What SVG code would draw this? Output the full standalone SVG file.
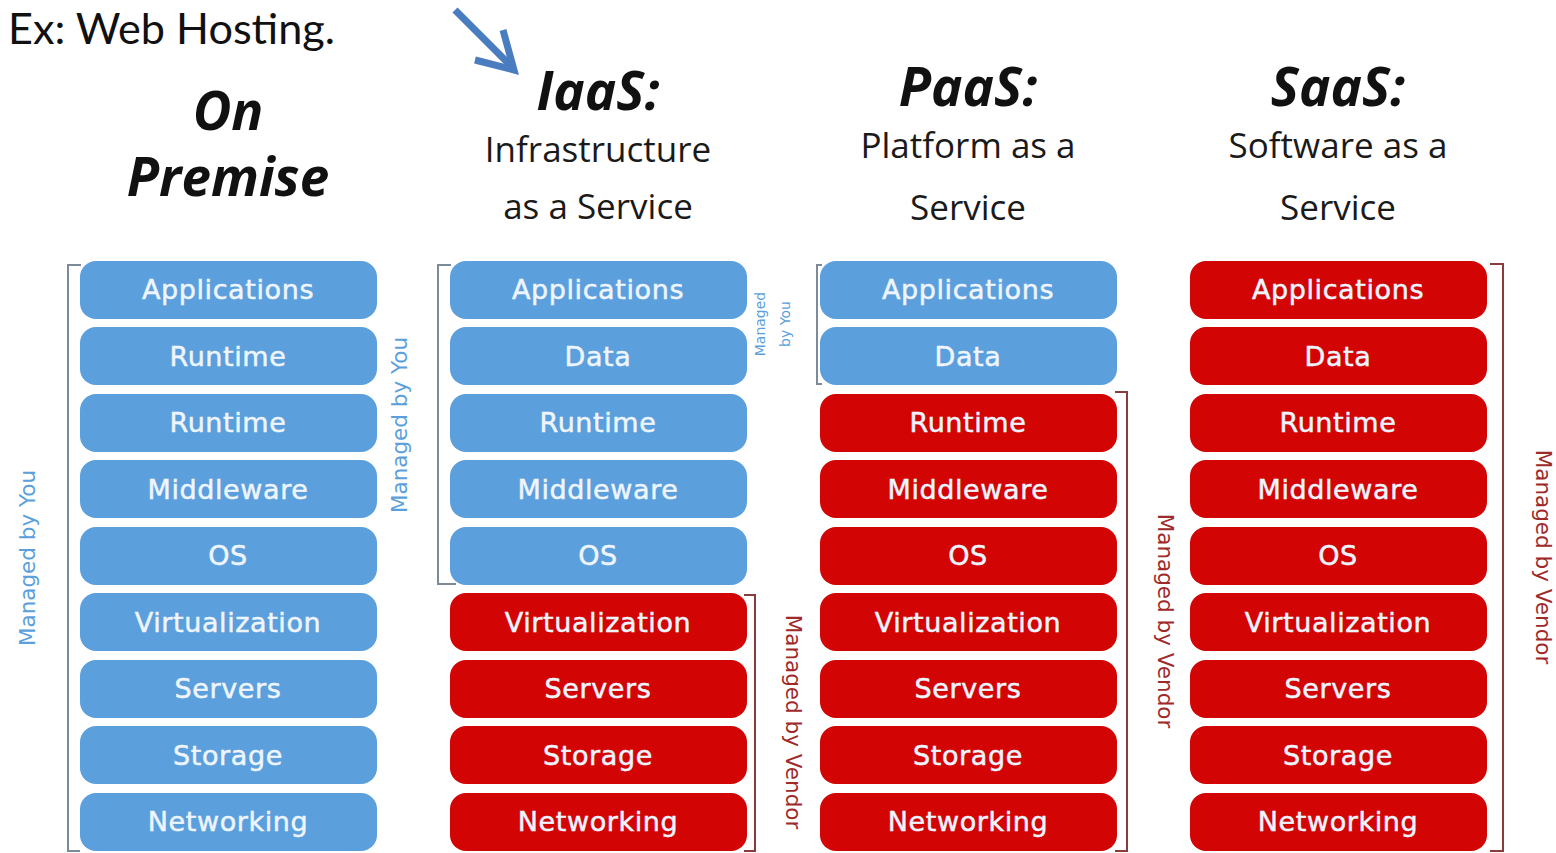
<svg xmlns="http://www.w3.org/2000/svg" width="1556" height="853" viewBox="0 0 1556 853">
  <style>
    .box-you { fill: #5b9fdc; }
    .box-vendor { fill: #d20404; }
    .lbl { font-family: "DejaVu Sans", Verdana, sans-serif; font-size: 27px; letter-spacing: 0.6px; fill: #eef5ff; stroke: #eef5ff; stroke-width: 0.5; text-anchor: middle; }
    .head { font-family: "Open Sans", "Liberation Sans", sans-serif; font-weight: bold; font-style: italic; font-size: 53px; fill: #111; text-anchor: middle; }
    .sub { font-family: "Open Sans", "Liberation Sans", sans-serif; font-size: 35px; fill: #1a1a1a; text-anchor: middle; }
    .title { font-family: Lato, "Liberation Sans", sans-serif; font-size: 42px; fill: #111; }
    .note-you { font-family: "DejaVu Sans", Verdana, sans-serif; font-size: 21.5px; fill: #5b9fdc; text-anchor: middle; }
    .note-you-sm { font-family: "DejaVu Sans", Verdana, sans-serif; font-size: 14px; fill: #5b9fdc; text-anchor: middle; }
    .note-vendor { font-family: "DejaVu Sans", Verdana, sans-serif; font-size: 21.5px; fill: #9e2a2a; text-anchor: middle; }
    .br-you { fill: none; stroke: #7d8a98; stroke-width: 2; }
    .br-vendor { fill: none; stroke: #8a3b3b; stroke-width: 2; }
    .arrow { fill: none; stroke: #4a7cc0; stroke-width: 7; stroke-linecap: butt; stroke-linejoin: miter; }
  </style>
  <defs>
    <rect id="tile" width="297" height="58" rx="16" ry="16"/>
  </defs>

  <rect width="1556" height="853" fill="#ffffff"/>

  <!-- Heading -->
  <text class="title" x="8" y="44" textLength="327" lengthAdjust="spacingAndGlyphs">Ex: Web Hosting.</text>

  <!-- Column titles -->
  <g id="head-onprem">
    <text class="head" x="228" y="130">On</text>
    <text class="head" x="228" y="196">Premise</text>
  </g>
  <g id="head-iaas">
    <text class="head" x="598" y="110">IaaS:</text>
    <text class="sub" x="598" y="162">Infrastructure</text>
    <text class="sub" x="598" y="219">as a Service</text>
  </g>
  <g id="head-paas">
    <text class="head" x="968" y="106">PaaS:</text>
    <text class="sub" x="968" y="158">Platform as a</text>
    <text class="sub" x="968" y="220">Service</text>
  </g>
  <g id="head-saas">
    <text class="head" x="1338" y="106">SaaS:</text>
    <text class="sub" x="1338" y="158">Software as a</text>
    <text class="sub" x="1338" y="220">Service</text>
  </g>

  <!-- On Premise stack -->
  <g id="onprem">
    <use href="#tile" class="box-you" x="80" y="261"/><text class="lbl" x="228" y="299">Applications</text>
    <use href="#tile" class="box-you" x="80" y="327"/><text class="lbl" x="228" y="366">Runtime</text>
    <use href="#tile" class="box-you" x="80" y="394"/><text class="lbl" x="228" y="432">Runtime</text>
    <use href="#tile" class="box-you" x="80" y="460"/><text class="lbl" x="228" y="499">Middleware</text>
    <use href="#tile" class="box-you" x="80" y="527"/><text class="lbl" x="228" y="565">OS</text>
    <use href="#tile" class="box-you" x="80" y="593"/><text class="lbl" x="228" y="632">Virtualization</text>
    <use href="#tile" class="box-you" x="80" y="660"/><text class="lbl" x="228" y="698">Servers</text>
    <use href="#tile" class="box-you" x="80" y="726"/><text class="lbl" x="228" y="765">Storage</text>
    <use href="#tile" class="box-you" x="80" y="793"/><text class="lbl" x="228" y="831">Networking</text>
  </g>

  <!-- IaaS stack -->
  <g id="iaas">
    <use href="#tile" class="box-you" x="450" y="261"/><text class="lbl" x="598" y="299">Applications</text>
    <use href="#tile" class="box-you" x="450" y="327"/><text class="lbl" x="598" y="366">Data</text>
    <use href="#tile" class="box-you" x="450" y="394"/><text class="lbl" x="598" y="432">Runtime</text>
    <use href="#tile" class="box-you" x="450" y="460"/><text class="lbl" x="598" y="499">Middleware</text>
    <use href="#tile" class="box-you" x="450" y="527"/><text class="lbl" x="598" y="565">OS</text>
    <use href="#tile" class="box-vendor" x="450" y="593"/><text class="lbl" x="598" y="632">Virtualization</text>
    <use href="#tile" class="box-vendor" x="450" y="660"/><text class="lbl" x="598" y="698">Servers</text>
    <use href="#tile" class="box-vendor" x="450" y="726"/><text class="lbl" x="598" y="765">Storage</text>
    <use href="#tile" class="box-vendor" x="450" y="793"/><text class="lbl" x="598" y="831">Networking</text>
  </g>

  <!-- PaaS stack -->
  <g id="paas">
    <use href="#tile" class="box-you" x="820" y="261"/><text class="lbl" x="968" y="299">Applications</text>
    <use href="#tile" class="box-you" x="820" y="327"/><text class="lbl" x="968" y="366">Data</text>
    <use href="#tile" class="box-vendor" x="820" y="394"/><text class="lbl" x="968" y="432">Runtime</text>
    <use href="#tile" class="box-vendor" x="820" y="460"/><text class="lbl" x="968" y="499">Middleware</text>
    <use href="#tile" class="box-vendor" x="820" y="527"/><text class="lbl" x="968" y="565">OS</text>
    <use href="#tile" class="box-vendor" x="820" y="593"/><text class="lbl" x="968" y="632">Virtualization</text>
    <use href="#tile" class="box-vendor" x="820" y="660"/><text class="lbl" x="968" y="698">Servers</text>
    <use href="#tile" class="box-vendor" x="820" y="726"/><text class="lbl" x="968" y="765">Storage</text>
    <use href="#tile" class="box-vendor" x="820" y="793"/><text class="lbl" x="968" y="831">Networking</text>
  </g>

  <!-- SaaS stack -->
  <g id="saas">
    <use href="#tile" class="box-vendor" x="1190" y="261"/><text class="lbl" x="1338" y="299">Applications</text>
    <use href="#tile" class="box-vendor" x="1190" y="327"/><text class="lbl" x="1338" y="366">Data</text>
    <use href="#tile" class="box-vendor" x="1190" y="394"/><text class="lbl" x="1338" y="432">Runtime</text>
    <use href="#tile" class="box-vendor" x="1190" y="460"/><text class="lbl" x="1338" y="499">Middleware</text>
    <use href="#tile" class="box-vendor" x="1190" y="527"/><text class="lbl" x="1338" y="565">OS</text>
    <use href="#tile" class="box-vendor" x="1190" y="593"/><text class="lbl" x="1338" y="632">Virtualization</text>
    <use href="#tile" class="box-vendor" x="1190" y="660"/><text class="lbl" x="1338" y="698">Servers</text>
    <use href="#tile" class="box-vendor" x="1190" y="726"/><text class="lbl" x="1338" y="765">Storage</text>
    <use href="#tile" class="box-vendor" x="1190" y="793"/><text class="lbl" x="1338" y="831">Networking</text>
  </g>

  <!-- Brackets, responsibility notes and pointer arrow -->
  <g id="connectors">
    <polyline class="arrow" points="455,10 511,66"/>
    <polyline class="arrow" points="475,60 514,70 503,30"/>

    <path class="br-you" d="M81,265 H68 V851 H80"/>
    <text class="note-you" transform="translate(35,558) rotate(-90)">Managed by You</text>
    <text class="note-you" transform="translate(407,425) rotate(-90)">Managed by You</text>

    <path class="br-you" d="M451,265 H438 V584 H456"/>
    <text class="note-you-sm" transform="translate(765,324) rotate(-90)">Managed</text>
    <text class="note-you-sm" transform="translate(790,324) rotate(-90)">by You</text>

    <path class="br-you" d="M822,265 H817 V384 H822"/>

    <path class="br-vendor" d="M744,595 H755 V851 H744"/>
    <text class="note-vendor" transform="translate(786,722) rotate(90)">Managed by Vendor</text>

    <path class="br-vendor" d="M1115,392 H1127 V851 H1115"/>
    <text class="note-vendor" transform="translate(1158,621) rotate(90)">Managed by Vendor</text>

    <path class="br-vendor" d="M1490,264 H1503 V851 H1490"/>
    <text class="note-vendor" transform="translate(1536,557) rotate(90)">Managed by Vendor</text>
  </g>
</svg>
